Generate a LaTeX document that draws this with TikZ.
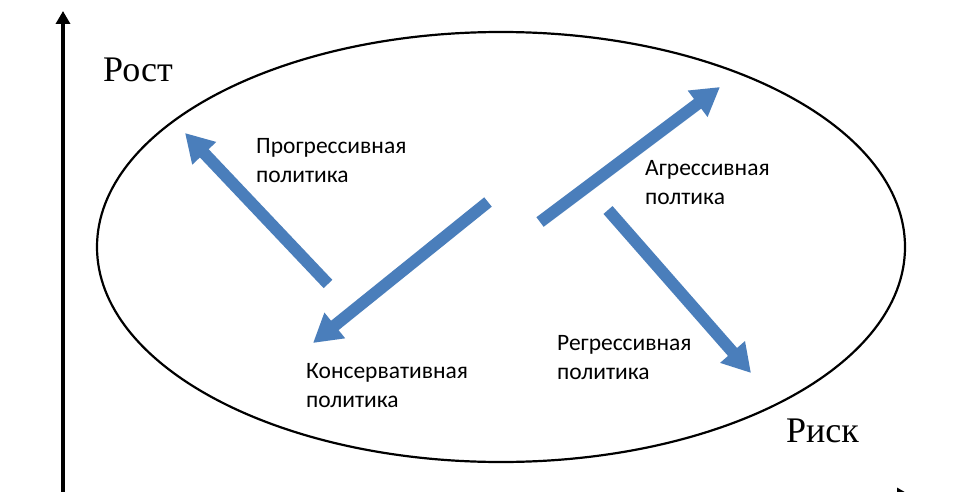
\documentclass[tikz,border=0pt]{standalone}
\usepackage{fontspec}
\setmainfont{Liberation Serif}
\newfontfamily\labelfont{Carlito}
\usetikzlibrary{arrows.meta,positioning}
\definecolor{policyblue}{HTML}{4A7EBB}

\begin{document}
\begin{tikzpicture}[x=1pt,y=-1pt,>=Stealth,
  axis/.style={line width=4.5pt,-{Triangle[width=14pt,length=13pt]}},
  policy/.style={policyblue,line width=12pt,-{Triangle[width=31pt,length=28pt]}},
  plabel/.style={anchor=north west,inner sep=0pt,align=left,font=\labelfont\fontsize{23.5}{29.5}\selectfont},
  axlabel/.style={anchor=base west,inner sep=0pt,font=\fontsize{36}{40}\selectfont}]
\useasboundingbox (0,0) rectangle (960,492);
\fill[white] (0,0) rectangle (960,492);
% axes
\coordinate (o) at (63,495);\coordinate (ytop) at (63,11);\coordinate (xend) at (910,495);
\draw[axis] (63,500)--(ytop);\draw[axis] (o)--(xend);
\node[axlabel] (rost) at (103,82) {Рост};
\node[axlabel] (risk) at (786,442) {Риск};
% field
\draw[line width=2.2pt] (501,247) ellipse [x radius=404,y radius=215];
% policies
\coordinate (progS) at (328,284);\coordinate (progE) at (185,133);
\coordinate (consS) at (488,202);\coordinate (consE) at (313,343);
\coordinate (aggrS) at (540,222);\coordinate (aggrE) at (720,87);
\coordinate (regrS) at (608,210);\coordinate (regrE) at (751,373);
\draw[policy] (progS)--(progE);\draw[policy] (consS)--(consE);
\draw[policy] (aggrS)--(aggrE);\draw[policy] (regrS)--(regrE);
\node[plabel] (prog) at (256,138) {Прогрессивная\\политика};
\node[plabel] (aggr) at (645,160) {Агрессивная\\полтика};
\node[plabel] (cons) at (306,363) {Консервативная\\политика};
\node[plabel] (regr) at (557,335) {Регрессивная\\политика};
\end{tikzpicture}
\end{document}
